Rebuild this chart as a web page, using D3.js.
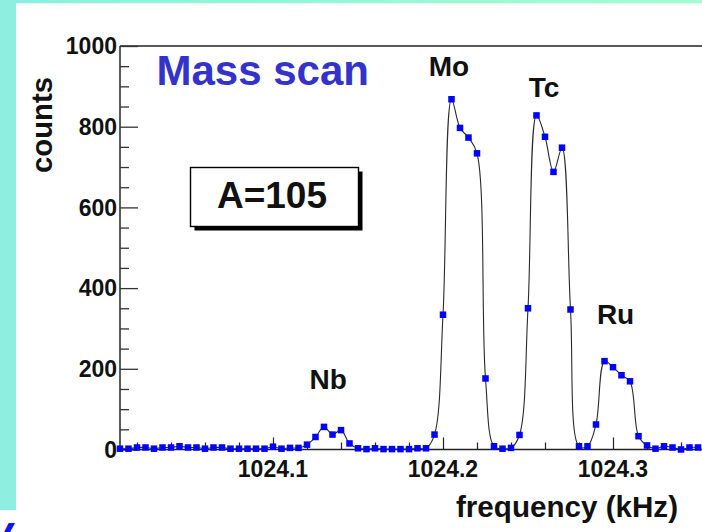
<!DOCTYPE html>
<html>
<head>
<meta charset="utf-8">
<script src="https://cdn.jsdelivr.net/npm/d3@7"></script>
<style>
  html, body { margin: 0; padding: 0; background: #ffffff; }
  svg { display: block; }
  text { font-family: "Liberation Sans", Arial, Helvetica, sans-serif; font-weight: bold; }
</style>
</head>
<body>
<svg id="chart" width="702" height="532"></svg>
<script>
// Mass scan at A=105: counts per frequency bin (kHz)
const frequencies = [
  1024.010, 1024.015, 1024.020, 1024.025, 1024.030, 1024.035, 1024.040, 1024.045,
  1024.050, 1024.055, 1024.060, 1024.065, 1024.070, 1024.075, 1024.080, 1024.085,
  1024.090, 1024.095, 1024.100, 1024.105, 1024.110, 1024.115, 1024.120, 1024.125,
  1024.130, 1024.135, 1024.140, 1024.145, 1024.150, 1024.155, 1024.160, 1024.165,
  1024.170, 1024.175, 1024.180, 1024.185, 1024.190, 1024.195, 1024.200, 1024.205,
  1024.210, 1024.215, 1024.220, 1024.225, 1024.230, 1024.235, 1024.240, 1024.245,
  1024.250, 1024.255, 1024.260, 1024.265, 1024.270, 1024.275, 1024.280, 1024.285,
  1024.290, 1024.295, 1024.300, 1024.305, 1024.310, 1024.315, 1024.320, 1024.325,
  1024.330, 1024.335, 1024.340, 1024.345, 1024.350
];
const counts = [
  2, 2, 5, 5, 2, 5, 5, 8, 5, 5, 2, 5, 5, 2, 2, 2, 2, 2,
  7, 2, 4, 4, 12, 31, 56, 37, 48, 15,
  3, 1, 3, 1, 1, 1, 1, 3, 3, 37,
  334, 868, 797, 773, 734, 176, 8, 2, 4, 36,
  350, 828, 775, 688, 748, 347, 8, 8, 62, 219,
  204, 184, 169, 33, 10, 2, 8, 5, 0, 5, 5
];

// Peak labels (element, frequency the label sits over, count level of its baseline)
const peakNames = ["Nb", "Mo", "Tc", "Ru"];
const peakFreq  = [1024.1325, 1024.2035, 1024.2595, 1024.3015];
const peakLevel = [150, 925, 873, 310];

const xMajorTicks = [1024.1, 1024.2, 1024.3];
const xMinorTicks = [1024.02, 1024.04, 1024.06, 1024.08, 1024.12, 1024.14, 1024.16, 1024.18,
                     1024.22, 1024.24, 1024.26, 1024.28, 1024.32, 1024.34];
const yMajorTicks = [0, 200, 400, 600, 800, 1000];
const yMinorTicks = [50, 100, 150, 250, 300, 350, 450, 500, 550, 650, 700, 750, 850, 900, 950];

const svg = d3.select("#chart");
const W = 702, H = 532;

// Page backdrop: turquoise border strips
const defs = svg.append("defs");
const grad = defs.append("linearGradient").attr("id", "topStrip")
  .attr("x1", 0).attr("x2", 1).attr("y1", 0).attr("y2", 0);
grad.append("stop").attr("offset", 0).attr("stop-color", "#8eeedf");
grad.append("stop").attr("offset", 1).attr("stop-color", "#a2fdd0");
svg.append("rect").attr("x", 0).attr("y", 0).attr("width", W).attr("height", H).attr("fill", "#ffffff");
svg.append("rect").attr("x", 0).attr("y", 0).attr("width", W).attr("height", 3.3).attr("fill", "url(#topStrip)");
svg.append("rect").attr("x", 0).attr("y", 0).attr("width", 16).attr("height", 510).attr("fill", "#8eeedf");
svg.append("text").attr("x", -16).attr("y", 552)
  .attr("font-size", 42).attr("font-style", "italic").attr("fill", "#1414ee").text("V");

// Scales
const x = d3.scaleLinear().domain([1024.1, 1024.3]).range([273, 613]);
const y = d3.scaleLinear().domain([0, 1000]).range([449.5, 46]);
const x0 = x(1024.01), yTop = y(1000), yBot = y(0);

// Frame
svg.append("line").attr("x1", x0).attr("x2", W + 5).attr("y1", yTop).attr("y2", yTop)
  .attr("stroke", "#5a5a5a").attr("stroke-width", 2);

// Y axis: ticks point inward
const yAxis = svg.append("g").attr("transform", `translate(${x0},0)`);
yAxis.call(d3.axisRight(y).tickValues(yMajorTicks).tickSize(18).tickFormat(""));
yAxis.append("g").call(d3.axisRight(y).tickValues(yMinorTicks).tickSize(9).tickFormat(""));
yAxis.selectAll(".domain").remove();
yAxis.selectAll("line").attr("stroke", "#333").attr("stroke-width", 1.3);
svg.append("line").attr("x1", x0).attr("x2", x0).attr("y1", yTop).attr("y2", yBot)
  .attr("stroke", "#333").attr("stroke-width", 1.6);
svg.append("g").selectAll("text").data(yMajorTicks).join("text")
  .attr("x", 117).attr("y", d => y(d)).attr("dy", "0.36em")
  .attr("text-anchor", "end").attr("font-size", 23).attr("fill", "#111")
  .text(d => d);

// X axis: ticks point up into the plot
const xAxis = svg.append("g").attr("transform", `translate(0,${yBot})`);
xAxis.call(d3.axisTop(x).tickValues(xMajorTicks).tickSize(12).tickFormat(""));
xAxis.append("g").call(d3.axisTop(x).tickValues(xMinorTicks).tickSize(7).tickFormat(""));
xAxis.selectAll(".domain").remove();
xAxis.selectAll("line").attr("stroke", "#222").attr("stroke-width", 1.2);
svg.append("line").attr("x1", x0).attr("x2", W + 5).attr("y1", yBot).attr("y2", yBot)
  .attr("stroke", "#222").attr("stroke-width", 1.4);
svg.append("g").selectAll("text").data(xMajorTicks).join("text")
  .attr("x", d => x(d)).attr("y", 476.5)
  .attr("text-anchor", "middle").attr("font-size", 23).attr("fill", "#111")
  .text(d => d3.format(".1f")(d));

// Axis titles
svg.append("text").attr("x", 456).attr("y", 517)
  .attr("font-size", 29).attr("fill", "#111")
  .attr("textLength", 222).attr("lengthAdjust", "spacingAndGlyphs")
  .text("frequency (kHz)");
svg.append("text").attr("transform", "translate(51.5,173) rotate(-90)")
  .attr("x", 0).attr("y", 0)
  .attr("font-size", 29).attr("fill", "#111")
  .attr("textLength", 96).attr("lengthAdjust", "spacingAndGlyphs")
  .text("counts");

// Title and mass tag
svg.append("text").attr("x", 156.5).attr("y", 85)
  .attr("font-size", 42).attr("fill", "#3333cc").text("Mass scan");

const box = { x: 190.5, y: 167.5, w: 168, h: 59 };
svg.append("rect").attr("x", box.x + 4).attr("y", box.y + 4).attr("width", box.w).attr("height", box.h)
  .attr("fill", "#000");
svg.append("rect").attr("x", box.x).attr("y", box.y).attr("width", box.w).attr("height", box.h)
  .attr("fill", "#fff").attr("stroke", "#000").attr("stroke-width", 1.4);
svg.append("text").attr("x", 272).attr("y", 207.5).attr("text-anchor", "middle")
  .attr("font-size", 37).attr("fill", "#111").text("A=105");

// Measured spectrum: smooth curve through the bins plus square markers
const pts = frequencies.map((f, i) => [f, counts[i]]);
const line = d3.line().x(d => x(d[0])).y(d => y(d[1])).curve(d3.curveCatmullRom.alpha(0.5));
svg.append("path").datum(pts).attr("d", line)
  .attr("fill", "none").attr("stroke", "#2a2a2a").attr("stroke-width", 1.1);
const ms = 6.5;
svg.append("g").selectAll("rect").data(pts).join("rect")
  .attr("x", d => x(d[0]) - ms / 2).attr("y", d => y(d[1]) - ms / 2)
  .attr("width", ms).attr("height", ms).attr("fill", "#0000ff");

// Peak labels
svg.append("g").selectAll("text").data(peakNames).join("text")
  .attr("x", (d, i) => x(peakFreq[i])).attr("y", (d, i) => y(peakLevel[i]))
  .attr("text-anchor", "middle").attr("font-size", 28).attr("fill", "#111")
  .text(d => d);
</script>
</body>
</html>
